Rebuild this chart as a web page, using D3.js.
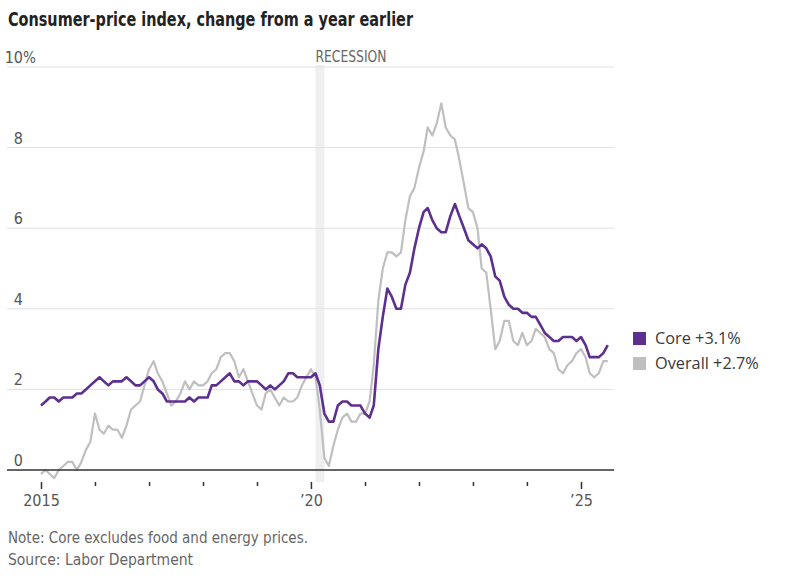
<!DOCTYPE html>
<html>
<head>
<meta charset="utf-8">
<script src="https://cdn.jsdelivr.net/npm/d3@7"></script>
<style>
  body { margin: 0; background: #fff; }
  svg { display: block; }
</style>
</head>
<body>
<div id="chart"></div>
<script>
// CPI year-over-year change, monthly Jan 2015 - Jul 2025

var coreValues = [
  1.6, 1.7, 1.8, 1.8, 1.7, 1.8, 1.8, 1.8, 1.9, 1.9, 2.0, 2.1,
  2.2, 2.3, 2.2, 2.1, 2.2, 2.2, 2.2, 2.3, 2.2, 2.1, 2.1, 2.2,
  2.3, 2.2, 2.0, 1.9, 1.7, 1.7, 1.7, 1.7, 1.7, 1.8, 1.7, 1.8,
  1.8, 1.8, 2.1, 2.1, 2.2, 2.3, 2.4, 2.2, 2.2, 2.1, 2.2, 2.2,
  2.2, 2.1, 2.0, 2.1, 2.0, 2.1, 2.2, 2.4, 2.4, 2.3, 2.3, 2.3,
  2.3, 2.4, 2.1, 1.4, 1.2, 1.2, 1.6, 1.7, 1.7, 1.6, 1.6, 1.6,
  1.4, 1.3, 1.6, 3.0, 3.8, 4.5, 4.3, 4.0, 4.0, 4.6, 4.9, 5.5,
  6.0, 6.4, 6.5, 6.2, 6.0, 5.9, 5.9, 6.3, 6.6, 6.3, 6.0, 5.7,
  5.6, 5.5, 5.6, 5.5, 5.3, 4.8, 4.7, 4.3, 4.1, 4.0, 4.0, 3.9,
  3.9, 3.8, 3.8, 3.6, 3.4, 3.3, 3.2, 3.2, 3.3, 3.3, 3.3, 3.2,
  3.3, 3.1, 2.8, 2.8, 2.8, 2.9, 3.1
];

var overallValues = [
  -0.1, 0.0, -0.1, -0.2, 0.0, 0.1, 0.2, 0.2, 0.0, 0.2, 0.5, 0.7,
  1.4, 1.0, 0.9, 1.1, 1.0, 1.0, 0.8, 1.1, 1.5, 1.6, 1.7, 2.1,
  2.5, 2.7, 2.4, 2.2, 1.9, 1.6, 1.7, 1.9, 2.2, 2.0, 2.2, 2.1,
  2.1, 2.2, 2.4, 2.5, 2.8, 2.9, 2.9, 2.7, 2.3, 2.5, 2.2, 1.9,
  1.6, 1.5, 1.9, 2.0, 1.8, 1.6, 1.8, 1.7, 1.7, 1.8, 2.1, 2.3,
  2.5, 2.3, 1.5, 0.3, 0.1, 0.6, 1.0, 1.3, 1.4, 1.2, 1.2, 1.4,
  1.4, 1.7, 2.6, 4.2, 5.0, 5.4, 5.4, 5.3, 5.4, 6.2, 6.8, 7.0,
  7.5, 7.9, 8.5, 8.3, 8.6, 9.1, 8.5, 8.3, 8.2, 7.7, 7.1, 6.5,
  6.4, 6.0, 5.0, 4.9, 4.0, 3.0, 3.2, 3.7, 3.7, 3.2, 3.1, 3.4,
  3.1, 3.2, 3.5, 3.4, 3.3, 3.0, 2.9, 2.5, 2.4, 2.6, 2.7, 2.9,
  3.0, 2.8, 2.4, 2.3, 2.4, 2.7, 2.7
];

var startYear = 2015;
var yTicks = [0, 2, 4, 6, 8, 10];
var xMajorYears = [2015, 2020, 2025];
var xMinorYears = [2016, 2017, 2018, 2019, 2021, 2022, 2023, 2024];
var recession = [new Date(2020, 1, 1), new Date(2020, 3, 1)];
var legendItems = [
  { label: 'Core +3.1%', color: '#5d2f8e' },
  { label: 'Overall +2.7%', color: '#bfbfbf' }
];

var titleText = 'Consumer-price index, change from a year earlier';
var noteText = 'Note: Core excludes food and energy prices.';
var sourceText = 'Source: Labor Department';

var narrow = '"Liberation Sans Narrow", "DejaVu Sans Condensed", sans-serif';

// Build monthly series
function toSeries(values) {
  return values.map(function (v, i) {
    return { date: new Date(startYear, i, 1), value: v };
  });
}
var coreSeries = toSeries(coreValues);
var overallSeries = toSeries(overallValues);

// Scales
var x = d3.scaleTime()
  .domain([new Date(2015, 0, 1), new Date(2025, 0, 1)])
  .range([41, 581]);

var y = d3.scaleLinear()
  .domain([0, 10])
  .range([470, 67]);

var plotLeft = 7, plotRight = 614;

// SVG
var svg = d3.select('#chart')
  .append('svg')
  .attr('width', 789)
  .attr('height', 588);

// Title
svg.append('text')
  .attr('x', 8)
  .attr('y', 26)
  .style('font', 'bold 19px ' + narrow)
  .style('fill', '#222')
  .attr('textLength', 405)
  .attr('lengthAdjust', 'spacingAndGlyphs')
  .text(titleText);

// Recession band
svg.append('rect')
  .attr('x', x(recession[0]))
  .attr('y', y(10) - 2)
  .attr('width', x(recession[1]) - x(recession[0]))
  .attr('height', 482 - y(10) + 2)
  .style('fill', '#eeeff1');

svg.append('text')
  .attr('x', x(recession[0]))
  .attr('y', 62)
  .style('font', '15px ' + narrow)
  .style('fill', '#666')
  .attr('textLength', 71)
  .attr('lengthAdjust', 'spacingAndGlyphs')
  .text('RECESSION');

// Gridlines
svg.selectAll('.grid')
  .data(yTicks.filter(function (d) { return d > 0; }))
  .enter()
  .append('line')
  .attr('class', 'grid')
  .attr('x1', plotLeft)
  .attr('x2', plotRight)
  .attr('y1', function (d) { return y(d); })
  .attr('y2', function (d) { return y(d); })
  .style('stroke', '#e1e1e1')
  .style('stroke-width', 1);

// Y labels
svg.selectAll('.y-label')
  .data(yTicks)
  .enter()
  .append('text')
  .attr('class', 'y-label')
  .attr('x', 23)
  .attr('y', function (d) { return y(d) - 4; })
  .attr('text-anchor', 'end')
  .style('font', '16px ' + narrow)
  .style('fill', '#555')
  .text(function (d) { return d; });

svg.append('text')
  .attr('x', 23)
  .attr('y', y(10) - 4)
  .style('font', '15px ' + narrow)
  .style('fill', '#555')
  .text('%');

// Lines
var line = d3.line()
  .x(function (d) { return x(d.date); })
  .y(function (d) { return y(d.value); });

svg.append('path')
  .datum(overallSeries)
  .attr('d', line)
  .style('fill', 'none')
  .style('stroke', legendItems[1].color)
  .style('stroke-width', 2.2)
  .style('stroke-linejoin', 'round');

svg.append('path')
  .datum(coreSeries)
  .attr('d', line)
  .style('fill', 'none')
  .style('stroke', legendItems[0].color)
  .style('stroke-width', 2.6)
  .style('stroke-linejoin', 'round');

// Baseline
svg.append('line')
  .attr('x1', plotLeft)
  .attr('x2', plotRight)
  .attr('y1', y(0))
  .attr('y2', y(0))
  .style('stroke', '#333')
  .style('stroke-width', 1.5);

// X axis - major ticks with labels
var majorAxis = d3.axisBottom(x)
  .tickValues(xMajorYears.map(function (yr) { return new Date(yr, 0, 1); }))
  .tickSize(7)
  .tickPadding(6)
  .tickFormat(function (d) {
    var yr = d.getFullYear();
    return yr === 2015 ? '2015' : '\u2019' + String(yr).slice(2);
  });

var gMajor = svg.append('g')
  .attr('transform', 'translate(0,482)')
  .call(majorAxis);
gMajor.select('.domain').remove();
gMajor.selectAll('line').style('stroke', '#333').style('stroke-width', 1.5);
gMajor.selectAll('text').style('font', '16px ' + narrow).style('fill', '#555');

// X axis - minor ticks
var minorAxis = d3.axisBottom(x)
  .tickValues(xMinorYears.map(function (yr) { return new Date(yr, 0, 1); }))
  .tickSize(4)
  .tickFormat('');

var gMinor = svg.append('g')
  .attr('transform', 'translate(0,482)')
  .call(minorAxis);
gMinor.select('.domain').remove();
gMinor.selectAll('line').style('stroke', '#333').style('stroke-width', 1.5);

// Legend
var legend = svg.selectAll('.legend')
  .data(legendItems)
  .enter()
  .append('g')
  .attr('class', 'legend')
  .attr('transform', function (d, i) { return 'translate(633,' + (332 + i * 25) + ')'; });

legend.append('rect')
  .attr('width', 13)
  .attr('height', 13)
  .style('fill', function (d) { return d.color; });

legend.append('text')
  .attr('x', 22)
  .attr('y', 11.5)
  .style('font', '16.3px "Open Sans", sans-serif')
  .style('fill', '#3a3a3a')
  .text(function (d) { return d.label; });

// Notes
svg.append('text')
  .attr('x', 8)
  .attr('y', 543)
  .style('font', '16px ' + narrow)
  .style('fill', '#666')
  .attr('textLength', 300)
  .attr('lengthAdjust', 'spacingAndGlyphs')
  .text(noteText);

svg.append('text')
  .attr('x', 8)
  .attr('y', 565)
  .style('font', '16px ' + narrow)
  .style('fill', '#666')
  .attr('textLength', 185)
  .attr('lengthAdjust', 'spacingAndGlyphs')
  .text(sourceText);
</script>
</body>
</html>
